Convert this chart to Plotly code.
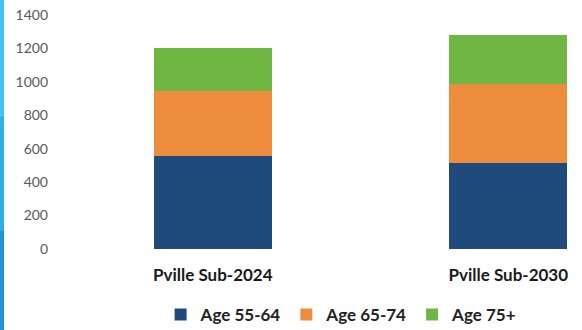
import plotly.graph_objects as go

# Senior population by age band, two subdivision scenarios
categories = ["Pville Sub-2024", "Pville Sub-2030"]
series_names = ["Age 55-64", "Age 65-74", "Age 75+"]
age_55_64 = [555, 515]
age_65_74 = [390, 470]
age_75_plus = [260, 295]
y_ticks = [0, 200, 400, 600, 800, 1000, 1200, 1400]

colors = ["#1f4a7c", "#ee8c3e", "#70b642"]
values = [age_55_64, age_65_74, age_75_plus]

W, H = 582, 330
ML, MR, MT, MB = 65, 0, 15, 81
plot_w = W - ML - MR
plot_h = H - MT - MB

fig = go.Figure()
for name, vals, col in zip(series_names, values, colors):
    fig.add_trace(go.Bar(
        x=categories, y=vals, name=name,
        marker=dict(color=col, line=dict(width=0)),
    ))

# thin cyan strip down the left edge of the page
strip = [("#3fc3ea", 0.0, 0.35), ("#2fb0e3", 0.35, 0.7), ("#2394d2", 0.7, 1.0)]
for col, a, b in strip:
    fig.add_shape(
        type="rect", xref="paper", yref="paper",
        x0=-ML / plot_w, x1=(-ML + 4) / plot_w,
        y0=1 + MT / plot_h - b * H / plot_h,
        y1=1 + MT / plot_h - a * H / plot_h,
        fillcolor=col, line=dict(width=0), layer="above",
    )

fig.update_layout(
    width=W, height=H,
    margin=dict(l=ML, r=MR, t=MT, b=MB, pad=0, autoexpand=False),
    barmode="stack",
    bargap=0.6,
    plot_bgcolor="white",
    paper_bgcolor="white",
    showlegend=True,
    legend=dict(
        orientation="h", x=0.535, xanchor="center", y=-66 / plot_h, yanchor="middle",
        font=dict(family="Lato", size=17, color="#222222", weight="bold"),
        itemwidth=30, traceorder="normal",
    ),
    xaxis=dict(
        range=[-0.5, -0.5 + plot_w / 295.5],
        showgrid=False, zeroline=False, showline=False, automargin=False,
        tickfont=dict(family="Lato", size=17, color="#1a1a1a", weight="bold"),
        ticklabelstandoff=14,
    ),
    yaxis=dict(
        range=[0, 1400], tickvals=y_ticks,
        showgrid=False, zeroline=False, showline=False, automargin=False,
        tickfont=dict(family="Lato", size=14, color="#595959"),
        ticklabelstandoff=16,
    ),
)

fig.write_html("out.html")
